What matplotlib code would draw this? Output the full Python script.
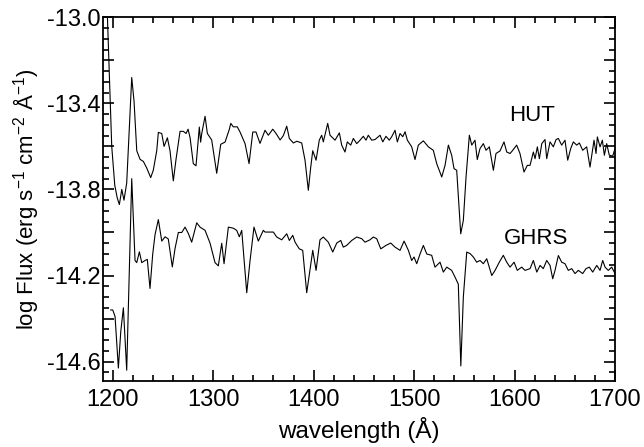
import matplotlib
matplotlib.use("Agg")
import matplotlib.pyplot as plt
from matplotlib.ticker import FixedLocator, MultipleLocator, FixedFormatter

plt.rcParams['font.family'] = ['Liberation Sans', 'DejaVu Sans']
plt.rcParams['mathtext.fontset'] = 'custom'
plt.rcParams['mathtext.rm'] = 'Liberation Sans'
plt.rcParams['axes.unicode_minus'] = False

# ---------------- data ----------------
hut_wave = [1194, 1199, 1202, 1204.5, 1206.6, 1209, 1211.2, 1213.9, 1216.2, 1218.9,
            1221.2, 1223.9, 1227.2, 1230.5, 1233.8, 1237.8, 1240.4, 1243.8, 1245.4, 1248.8,
            1251.1, 1254.4, 1257, 1260.3, 1263, 1267, 1270.3, 1273, 1275, 1277,
            1280.2, 1282.9, 1286.2, 1287.5, 1288.6, 1291.9, 1294.2, 1298.5, 1303.5, 1307.5,
            1311.8, 1316.1, 1317.5, 1320.0, 1324.0, 1326.7, 1331.7, 1335.7, 1339.4, 1342.6,
            1346.6, 1351.6, 1354.9, 1359.3, 1362.6, 1366.6, 1369.8, 1373.2, 1375.8, 1379.8,
            1383.2, 1388.1, 1391.4, 1394.7, 1397.1, 1399.1, 1402.4, 1405.6, 1408.0, 1409.6,
            1414.0, 1416.3, 1421.3, 1425.6, 1427.9, 1431.2, 1433.5, 1436.9, 1439.5, 1442.9,
            1446.2, 1449.4, 1452.1, 1454.4, 1457.8, 1461.1, 1466.1, 1468.8, 1472.0, 1475.3,
            1477.7, 1481.0, 1483.3, 1486.0, 1488.7, 1491.0, 1493.3, 1497.6, 1500.9, 1504.2,
            1509.2, 1514.2, 1519.1, 1522.5, 1527.5, 1530.8, 1534.1, 1537.4, 1539.7, 1542.4,
            1546.4, 1549.0, 1551.7, 1555.0, 1557.4, 1560.6, 1562.9, 1565.6, 1568.9, 1571.6,
            1574.9, 1578.9, 1581.5, 1585.5, 1589.5, 1592.2, 1595.5, 1598.2, 1602.1, 1605.4,
            1609.4, 1612.7, 1615.4, 1618.7, 1620.4, 1622.7, 1624.7, 1627.1, 1630.3, 1632.0,
            1635.3, 1638.6, 1641.3, 1643.6, 1646.9, 1650.2, 1652.9, 1655.9, 1658.5, 1661.9,
            1664.5, 1667.8, 1671.8, 1675.1, 1679.1, 1681.1, 1682.4, 1685.1, 1687.4, 1689.4,
            1691.7, 1694.3, 1697.7, 1700.0]
hut_flux = [-12.90, -13.60, -13.78, -13.84, -13.87, -13.80, -13.85, -13.77, -13.54, -13.28,
            -13.39, -13.62, -13.66, -13.67, -13.70, -13.745, -13.71, -13.62, -13.535, -13.54,
            -13.60, -13.56, -13.62, -13.76, -13.66, -13.53, -13.53, -13.54, -13.52, -13.56,
            -13.68, -13.69, -13.51, -13.58, -13.54, -13.46, -13.54, -13.57, -13.725, -13.59,
            -13.58, -13.52, -13.493, -13.509, -13.509, -13.533, -13.587, -13.68, -13.533, -13.533,
            -13.586, -13.525, -13.548, -13.52, -13.54, -13.57, -13.55, -13.506, -13.563, -13.584,
            -13.576, -13.584, -13.664, -13.804, -13.696, -13.62, -13.664, -13.571, -13.548, -13.579,
            -13.493, -13.548, -13.571, -13.537, -13.594, -13.626, -13.579, -13.594, -13.563, -13.587,
            -13.571, -13.553, -13.571, -13.548, -13.571, -13.568, -13.548, -13.579, -13.553, -13.571,
            -13.555, -13.525, -13.579, -13.54, -13.555, -13.532, -13.571, -13.602, -13.661, -13.594,
            -13.574, -13.602, -13.618, -13.68, -13.742, -13.688, -13.594, -13.641, -13.703, -13.711,
            -14.006, -13.944, -13.742, -13.548, -13.594, -13.571, -13.661, -13.61, -13.587, -13.618,
            -13.602, -13.711, -13.633, -13.621, -13.579, -13.626, -13.633, -13.618, -13.594, -13.633,
            -13.719, -13.688, -13.688, -13.626, -13.657, -13.602, -13.657, -13.587, -13.568, -13.657,
            -13.579, -13.602, -13.568, -13.563, -13.594, -13.571, -13.664, -13.61, -13.579, -13.594,
            -13.584, -13.618, -13.602, -13.696, -13.571, -13.633, -13.556, -13.602, -13.571, -13.641,
            -13.587, -13.641, -13.645, -13.610]

ghrs_wave = [1198, 1200, 1202.3, 1205.6, 1208.0, 1210.6, 1213.9, 1218.9, 1222.2, 1223.9,
             1226.5, 1228.9, 1232.2, 1234.4, 1237.1, 1239.8, 1242.1, 1245.4, 1248.8, 1252.1,
             1255.3, 1259.3, 1262.0, 1265.3, 1268.7, 1272.0, 1275.3, 1278.6, 1283.6, 1286.9,
             1291.9, 1296.9, 1301.8, 1305.1, 1308.5, 1310.8, 1315.1, 1320.0, 1323.4, 1326.0,
             1328.4, 1333.4, 1336.7, 1340.6, 1344.9, 1349.9, 1351.6, 1359.9, 1363.2, 1368.2,
             1373.2, 1375.8, 1379.2, 1381.5, 1385.7, 1389.1, 1393.1, 1399.1, 1402.4, 1406.3,
             1409.6, 1414.6, 1419.0, 1423.0, 1427.0, 1429.5, 1432.9, 1437.9, 1442.9, 1447.9,
             1451.1, 1456.1, 1459.4, 1462.8, 1466.8, 1472.0, 1476.7, 1481.0, 1486.0, 1490.0,
             1494.3, 1497.6, 1499.9, 1502.6, 1505.9, 1509.2, 1512.6, 1517.5, 1520.8, 1525.8,
             1529.1, 1532.5, 1537.4, 1540.7, 1544.0, 1546.5, 1549.0, 1552.4, 1555.7, 1559.0,
             1562.3, 1565.6, 1568.9, 1572.3, 1577.3, 1580.6, 1584.8, 1588.8, 1592.2, 1595.5,
             1599.5, 1602.7, 1607.1, 1610.4, 1615.4, 1618.7, 1622.1, 1625.4, 1628.6, 1632.0,
             1635.3, 1638.0, 1640.3, 1643.6, 1646.9, 1650.2, 1653.5, 1656.9, 1660.2, 1663.5,
             1667.8, 1671.1, 1674.4, 1677.8, 1681.8, 1685.1, 1687.7, 1690.1, 1693.3, 1696.7,
             1700.0]
ghrs_flux = [-14.36, -14.36, -14.39, -14.63, -14.46, -14.35, -14.64, -13.75, -14.13, -14.14,
             -14.09, -14.14, -14.13, -14.125, -14.26, -14.10, -14.01, -13.94, -14.04, -14.02,
             -14.03, -14.16, -14.075, -14.00, -14.00, -13.975, -14.005, -14.045, -13.955, -13.975,
             -13.99, -14.05, -14.14, -14.155, -14.05, -14.145, -13.975, -13.98, -13.99, -14.02,
             -13.99, -14.28, -14.13, -13.975, -14.04, -13.99, -13.998, -13.998, -14.021, -14.034,
             -14.006, -14.037, -14.013, -14.045, -14.076, -14.083, -14.28, -14.083, -14.176, -14.034,
             -14.021, -14.045, -14.091, -14.049, -14.037, -14.068, -14.06, -14.037, -14.021, -14.029,
             -14.045, -14.034, -14.021, -14.029, -14.076, -14.06, -14.049, -14.068, -14.083, -14.04,
             -14.083, -14.13, -14.114, -14.145, -14.10, -14.06, -14.10, -14.106, -14.161, -14.138,
             -14.184, -14.161, -14.176, -14.207, -14.24, -14.62, -14.30, -14.091, -14.098, -14.114,
             -14.138, -14.13, -14.145, -14.122, -14.20, -14.176, -14.138, -14.106, -14.138, -14.161,
             -14.138, -14.176, -14.161, -14.176, -14.168, -14.13, -14.184, -14.153, -14.168, -14.13,
             -14.153, -14.215, -14.176, -14.107, -14.138, -14.145, -14.176, -14.168, -14.191, -14.176,
             -14.191, -14.168, -14.161, -14.184, -14.153, -14.176, -14.13, -14.161, -14.176, -14.161,
             -14.191]

x_ticks = [1200, 1300, 1400, 1500, 1600, 1700]
x_ticklabels = ['1200', '1300', '1400', '1500', '1600', '1700']
y_ticks = [-14.6, -14.4, -14.2, -14.0, -13.8, -13.6, -13.4, -13.2, -13.0]
y_ticklabels = ['-14.6', '', '-14.2', '', '-13.8', '', '-13.4', '', '-13.0']
series_labels = ['HUT', 'GHRS']
label_pos = [(1617, -13.455), (1621, -14.03)]

# ---------------- figure ----------------
fig = plt.figure(figsize=(6.44, 4.47), dpi=100)
ax = fig.add_axes([0.1604, 0.1477, 0.7946, 0.8136])

ax.plot(hut_wave, hut_flux, color='black', lw=0.8)
ax.plot(ghrs_wave, ghrs_flux, color='black', lw=0.8)

for lab, (lx, ly) in zip(series_labels, label_pos):
    ax.text(lx, ly, lab, fontsize=16, ha='center', va='center')

ax.set_xlim(1190.6, 1700)
ax.set_ylim(-14.69, -13.0)

ax.xaxis.set_major_locator(FixedLocator(x_ticks))
ax.xaxis.set_major_formatter(FixedFormatter(x_ticklabels))
ax.xaxis.set_minor_locator(MultipleLocator(20))
ax.yaxis.set_major_locator(FixedLocator(y_ticks))
ax.yaxis.set_major_formatter(FixedFormatter(y_ticklabels))
ax.yaxis.set_minor_locator(MultipleLocator(0.05))

ax.tick_params(which='both', direction='in', top=True, right=True,
               labelsize=17, width=1.2)
ax.tick_params(which='major', length=8)
ax.tick_params(axis='x', which='major', pad=6)
ax.tick_params(axis='y', which='major', pad=2)
ax.tick_params(which='minor', length=4.5)
for s in ax.spines.values():
    s.set_linewidth(1.3)

ax.set_xlabel('wavelength (Å)', fontsize=17.5, labelpad=4)
ax.set_ylabel(r'log Flux (erg s$^{-1}$ cm$^{-2}$ Å$^{-1}$)', fontsize=16, labelpad=4)

fig.savefig('out.png', dpi=100)
